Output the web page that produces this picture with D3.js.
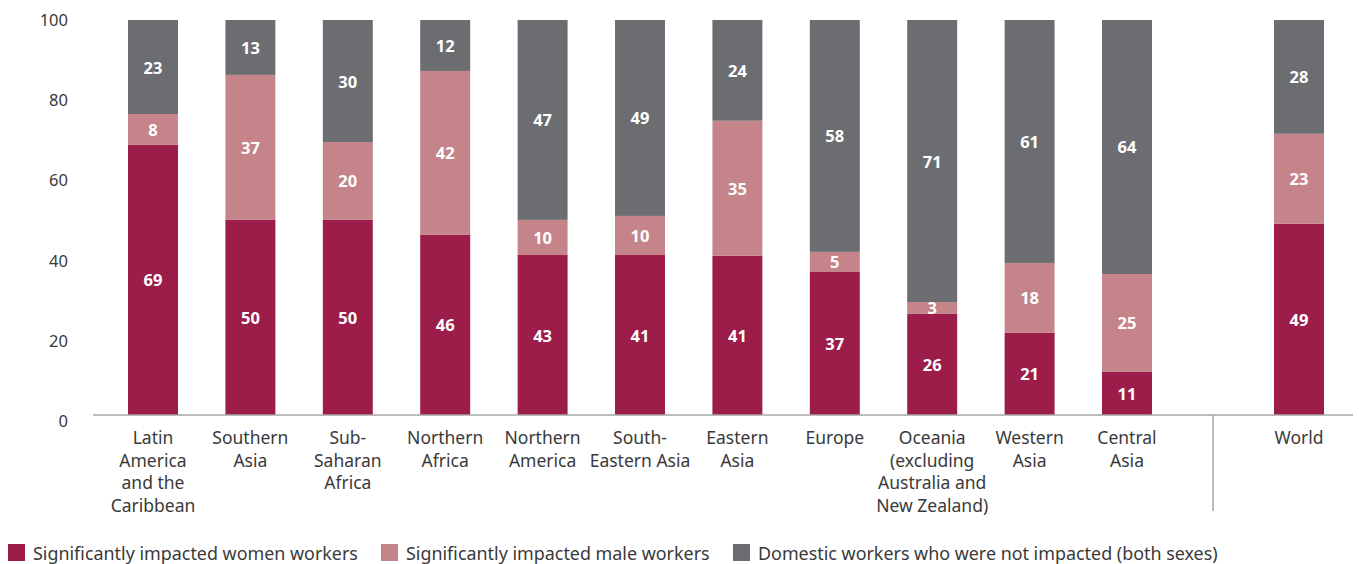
<!DOCTYPE html>
<html><head><meta charset="utf-8">
<script src="https://cdn.jsdelivr.net/npm/d3@7"></script>
<style>body{margin:0;background:#fff;} svg{display:block;font-family:"Noto Sans",sans-serif;}</style>
</head><body>
<svg id="c" width="1359" height="564"></svg>
<script>
const categories = ["Latin|America|and the|Caribbean", "Southern|Asia", "Sub-|Saharan|Africa", "Northern|Africa", "Northern|America", "South-|Eastern Asia", "Eastern|Asia", "Europe", "Oceania|(excluding|Australia and|New Zealand)", "Western|Asia", "Central|Asia"];
const worldCategory = "World";
// printed labels
const womenLabels = [69, 50, 50, 46, 43, 41, 41, 37, 26, 21, 11, 49];
const menLabels = [8, 37, 20, 42, 10, 10, 35, 5, 3, 18, 25, 23];
const otherLabels = [23, 13, 30, 12, 47, 49, 24, 58, 71, 61, 64, 28];
// segment sizes as drawn in the picture
const women = [68.4, 49.4, 49.4, 45.6, 40.5, 40.5, 40.3, 36.2, 25.6, 20.8, 10.9, 48.4];
const men = [7.8, 36.7, 19.7, 41.5, 8.9, 9.9, 34.2, 5.1, 3.0, 17.7, 24.8, 22.8];
const notImpacted = [23.8, 13.9, 30.9, 12.9, 50.6, 49.6, 25.5, 58.7, 71.4, 61.5, 64.3, 28.8];
const yTicks = [0, 20, 40, 60, 80, 100];
const seriesNames = ["Significantly impacted women workers", "Significantly impacted male workers", "Domestic workers who were not impacted (both sexes)"];
const colors = ["#9c1c4a", "#c5848a", "#6c6d71"];

const svg = d3.select("#c");
const y = d3.scaleLinear().domain([0, 100]).range([415, 20]);
const yLabel = d3.scaleLinear().domain([0, 100]).range([421, 20]);
const xMain = d3.scaleBand().domain(categories).range([104.3, 1175.7]).paddingInner(0.487).paddingOuter(0.2435);
const xWorld = d3.scaleBand().domain([worldCategory]).range([1250.3, 1347.7]).paddingInner(0.487).paddingOuter(0.2435);

const allCats = categories.concat([worldCategory]);
const xPos = c => c === worldCategory ? xWorld(c) : xMain(c);
const bw = xMain.bandwidth();

const rows = allCats.map((c, i) => ({cat: c, idx: i, women: women[i], men: men[i], other: notImpacted[i]}));
const stack = d3.stack().keys(["women", "men", "other"])(rows);
const labelSets = [womenLabels, menLabels, otherLabels];

// y tick labels
svg.append("g").selectAll("text").data(yTicks).join("text")
  .attr("x", 68).attr("y", d => yLabel(d) + 6).attr("text-anchor", "end")
  .attr("font-size", 16.5).attr("fill", "#3a3a3a").text(d => d);

// bars
stack.forEach((s, si) => {
  const g = svg.append("g");
  g.selectAll("rect").data(s).join("rect")
    .attr("x", d => xPos(d.data.cat)).attr("width", bw)
    .attr("y", d => y(d[1])).attr("height", d => y(d[0]) - y(d[1]))
    .attr("fill", colors[si]);
  g.selectAll("text").data(s).join("text")
    .attr("x", d => xPos(d.data.cat) + bw / 2)
    .attr("y", d => (y(d[0]) + y(d[1])) / 2 + 6.5)
    .attr("text-anchor", "middle").attr("font-size", 16.5).attr("font-weight", "bold")
    .attr("fill", "#fff").text(d => labelSets[si][d.data.idx]);
});

// axis line & separator
svg.append("line").attr("x1", 93).attr("x2", 1353).attr("y1", y(0)).attr("y2", y(0)).attr("stroke", "#a6a6a6").attr("stroke-width", 1.5);
svg.append("line").attr("x1", 1213).attr("x2", 1213).attr("y1", y(0)).attr("y2", 511).attr("stroke", "#a6a6a6").attr("stroke-width", 1.5);

// x labels
const xl = svg.append("g");
allCats.forEach(c => {
  const t = xl.append("text").attr("text-anchor", "middle").attr("font-size", 17.5).attr("fill", "#3a3a3a");
  c.split("|").forEach((line, i) => {
    t.append("tspan").attr("x", xPos(c) + bw / 2).attr("y", 444 + i * 22.6).text(line);
  });
});

// legend
const legX = [8, 381, 733];
const lg = svg.append("g");
seriesNames.forEach((n, i) => {
  lg.append("rect").attr("x", legX[i]).attr("y", 544).attr("width", 17).attr("height", 17).attr("fill", colors[i]);
  lg.append("text").attr("x", legX[i] + 25).attr("y", 559.5).attr("font-size", 17.9).attr("fill", "#3a3a3a").text(n);
});
</script>
</body></html>
